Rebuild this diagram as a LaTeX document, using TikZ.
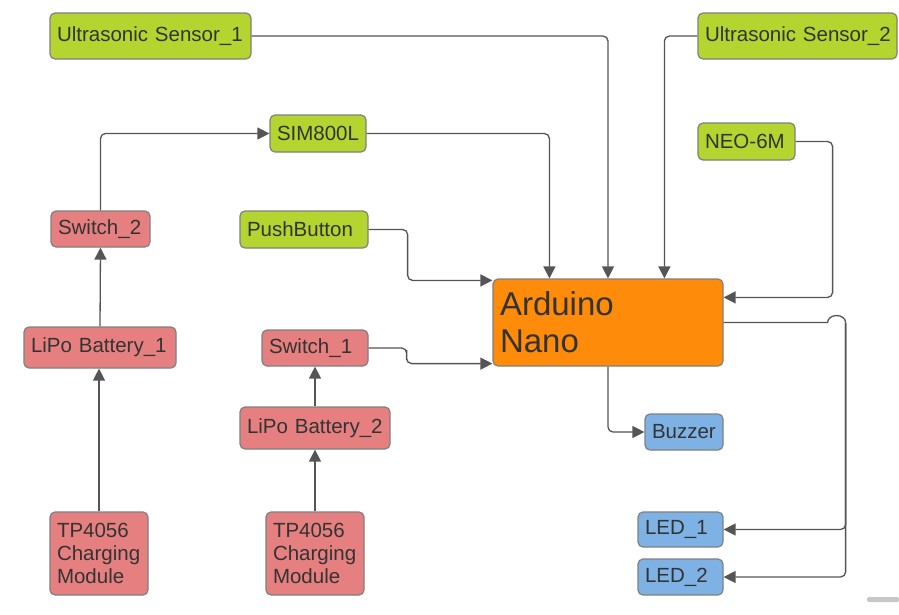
\documentclass[tikz,border=0pt]{standalone}
\usepackage{fontspec}
\setmainfont{Liberation Sans}
\usetikzlibrary{arrows.meta,calc}
\definecolor{gfill}{RGB}{180,213,48}
\definecolor{rfill}{RGB}{230,128,128}
\definecolor{ofill}{RGB}{255,139,10}
\definecolor{bfill}{RGB}{126,178,228}
\definecolor{bord}{RGB}{128,128,128}
\definecolor{txt}{RGB}{51,51,51}
\definecolor{lin}{RGB}{85,85,85}
\tikzset{
  box/.style={draw=bord, line width=1.2pt, rounded corners=5pt, inner xsep=7pt, inner ysep=0pt,
    align=left, text=txt, font=\fontsize{20.5}{23}\selectfont},
  grn/.style={box, fill=gfill},
  red/.style={box, fill=rfill},
  blu/.style={box, fill=bfill},
  conn/.style={draw=lin, line width=1.3pt, rounded corners=5pt, -{Triangle[length=12pt,width=12pt]}},
  plain/.style={draw=lin, line width=1.3pt}
}
\begin{document}
\begin{tikzpicture}[x=1pt,y=-1pt]
\useasboundingbox (0,0) rectangle (899,614);
\fill[white] (0,0) rectangle (899,614);
% nodes
\node[grn, minimum height=46pt, text width=187pt] (us1) at (150.5,36) {\mbox{Ultrasonic Sensor\_1}};
\node[grn, minimum height=46pt, text width=185pt] (us2) at (797.5,36) {\mbox{Ultrasonic Sensor\_2}};
\node[grn, minimum height=37pt, text width=82pt] (sim) at (318,133.5) {\mbox{SIM800L}};
\node[grn, minimum height=37pt, text width=83pt] (neo) at (746.5,141.5) {\mbox{NEO-6M}};
\node[red, minimum height=36pt, text width=85pt] (sw2) at (100.5,229) {\mbox{Switch\_2}};
\node[grn, minimum height=37pt, text width=114pt] (push) at (304,229.5) {\mbox{PushButton}};
\node[box, fill=ofill, minimum height=87pt, text width=216pt, font=\fontsize{33}{37}\selectfont] (ard) at (608,322.5) {Arduino\\Nano};
\node[red, minimum height=41pt, text width=138pt] (lipo1) at (100,347.5) {\mbox{LiPo Battery\_1}};
\node[red, minimum height=36pt, text width=92pt] (sw1) at (315,348) {\mbox{Switch\_1}};
\node[red, minimum height=42pt, text width=136pt] (lipo2) at (315,428) {\mbox{LiPo Battery\_2}};
\node[blu, minimum height=36pt, text width=64pt] (buz) at (684,432) {\mbox{Buzzer}};
\node[blu, minimum height=35pt, text width=71pt] (led1) at (680.5,529.5) {\mbox{LED\_1}};
\node[blu, minimum height=36pt, text width=71pt] (led2) at (680.5,577) {\mbox{LED\_2}};
\node[red, minimum height=83pt, text width=84pt] (tp1) at (99,553.5) {\mbox{TP4056}\\\mbox{Charging}\\\mbox{Module}};
\node[red, minimum height=83pt, text width=84pt] (tp2) at (315,553.5) {\mbox{TP4056}\\\mbox{Charging}\\\mbox{Module}};
% connectors into Arduino
\draw[conn] (us1.east) -| (ard.north);
\draw[conn] (us2.west) -| ($(ard.north west)+(172,0)$);
\draw[conn] (sim.east) -| ($(ard.north west)+(57,0)$);
\draw[conn] (neo.east) -| ($(ard.north east)+(109,19)$) -- ($(ard.north east)+(0,19)$);
\draw[conn] (push.east) -| ($(push.east)+(39,25)$) |- ($(ard.north west)+(0,2)$);
\draw[conn] (sw1.east) -| ($(sw1.east)+(38,7)$) |- ($(ard.south west)+(0,-3)$);
% outputs
\draw[conn] (ard.south) |- (buz.west);
\coordinate (jmp) at ($(ard.east)+(104,0)$);
\draw[plain] (ard.east) -- (jmp) arc[start angle=180,end angle=360,x radius=9,y radius=7];
\draw[conn] ($(jmp)+(18,0)$) |- (led1.east);
\draw[conn] ($(jmp)+(18,0)$) |- (led2.east);
% power chains
\draw[conn] (sw2.north) |- (sim.west);
\draw[conn] (lipo1.north) -- (sw2.south);
\draw[conn] (tp1.north) -- (tp1.north |- lipo1.south);
\draw[conn] (lipo2.north) -- (sw1.south);
\draw[conn] (tp2.north) -- (lipo2.south);
% scrollbar remnant
\fill[rounded corners=2pt, black!22] (867,597) rectangle (899,602);
\end{tikzpicture}
\end{document}
